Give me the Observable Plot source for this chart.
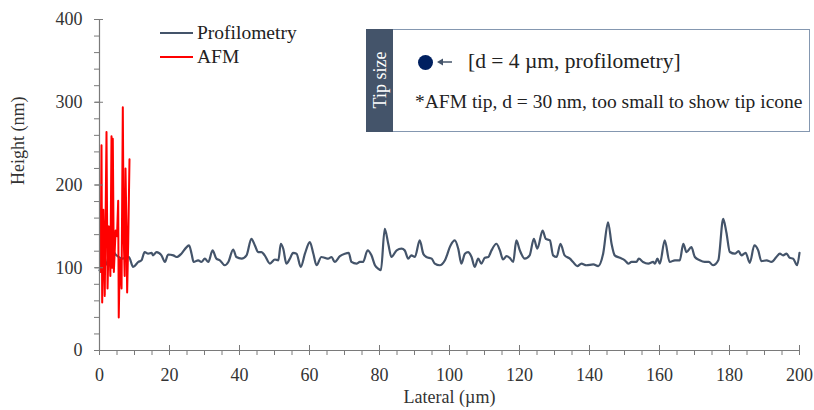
<!DOCTYPE html>
<html>
<head>
<meta charset="utf-8">
<script src="https://cdn.jsdelivr.net/npm/d3@7"></script>
<script src="https://cdn.jsdelivr.net/npm/@observablehq/plot@0.6"></script>
<style>
  body { margin: 0; background: #fff; }
  #wrap { position: relative; width: 814px; height: 410px; font-family: 'Liberation Serif', 'Times New Roman', serif; color: #222; }
  .abs { position: absolute; white-space: nowrap; }
  #chart svg text { font-family: 'Liberation Serif', 'Times New Roman', serif; }
</style>
</head>
<body>
<div id="wrap">
  <div id="chart"></div>
  <!-- legend -->
  <div class="abs" style="left:160px;top:32px;width:33px;height:2px;background:#44546a"></div>
  <div class="abs" style="left:197px;top:22px;font-size:19.5px;line-height:22px">Profilometry</div>
  <div class="abs" style="left:160px;top:56px;width:33px;height:2px;background:#ff0000"></div>
  <div class="abs" style="left:197px;top:46px;font-size:19.5px;line-height:22px">AFM</div>
  <!-- tip size box -->
  <div class="abs" style="left:366px;top:29px;width:444px;height:103px;border:1.5px solid #8497b0;box-sizing:border-box;background:#fff">
    <div class="abs" style="left:-1px;top:-1px;bottom:-1px;width:27px;background:#44546a"></div>
    <div class="abs" style="left:13px;top:50px;transform:translate(-50%,-50%) rotate(-90deg);color:#fff;font-size:18px;line-height:18px">Tip size</div>
    <div class="abs" style="left:51px;top:25px;width:15px;height:15px;border-radius:50%;background:#002060"></div>
    <svg class="abs" style="left:70px;top:26px" width="16" height="12">
      <line x1="4" y1="6" x2="15" y2="6" stroke="#44546a" stroke-width="1.5"/>
      <polygon points="0,6 6,2.5 6,9.5" fill="#44546a"/>
    </svg>
    <div class="abs" style="left:101px;top:19px;font-size:21.5px;line-height:24px">[d = 4 µm, profilometry]</div>
    <div class="abs" style="left:48px;top:60px;font-size:19.5px;line-height:24px">*AFM tip, d = 30 nm, too small to show tip icone</div>
  </div>
</div>
<script>
// Profilometry profile (lateral µm, height nm)
const profX = [
  0,0.8,2.2,3.4,4.1,5.5,6.5,8.4,9.6,11.1,
  12,12.9,13.9,14.9,15.3,16.3,17.7,18.7,19.6,21.1,
  22,23.4,24.9,25.6,26.3,26.9,28.2,29.1,30.1,31.1,
  32.3,33.4,34.4,35.8,36.8,38.2,39.1,40.6,42,43.4,
  44.4,45.3,46.3,47.2,48.7,50.1,51.1,51.8,52.5,53.4,
  54.4,55.3,56.3,57.5,58.7,60.1,61.1,62,63.4,64.4,
  65.3,66.3,67.2,68.7,70.1,71.2,72,73.4,74.4,75.3,
  76.6,77.7,78.7,79.6,80.4,81.5,82.5,83.4,84.9,86.3,
  87.2,88.2,89.1,90.1,91.5,92.5,93.4,94.9,95.8,97.2,
  98.7,100.3,101.5,102.5,103.4,104.4,105.3,106.3,107.2,108.2,
  109.1,110.1,111.1,112,113.4,114.4,115.3,116.3,117.2,118.2,
  119.1,120.1,121.5,122.9,124.1,125.1,126.6,127.5,128.7,129.6,
  130.6,131.7,132.9,134.4,135.3,136.5,137.7,139.1,141.1,142.5,
  143.9,145.3,146.3,147.2,148.7,150.1,151.1,152,153.4,154.1,
  155.3,156.8,158.2,158.7,159.4,160.1,161.5,162.9,164.4,165.8,
  166.8,167.7,169.1,170.1,171.5,172.9,174.1,175.3,176.8,178.2,
  179.1,180.1,181.5,182.6,183.4,184.6,185.8,187.1,188.2,189.1,
  190.6,192,193.4,194.4,195.3,196.3,197.2,198.2,199.3,200
];
const profY = [
  97,99,107,131,119,113,111,113,101,107,
  109,119,117,118,115,119,115,107,116,115,
  113,117,125,127,117,107,109,107,111,107,
  121,111,109,103,107,122,113,111,115,135,
  127,119,119,115,105,110,109,129,123,105,
  111,118,117,101,117,131,117,103,113,112,
  111,113,107,114,117,118,107,105,107,107,
  121,115,103,99,97,147,129,113,121,123,
  121,111,115,113,133,117,113,111,105,103,
  109,127,133,123,105,117,119,113,101,111,
  105,112,113,121,129,121,110,114,112,107,
  133,121,111,115,135,123,145,135,133,115,
  113,129,115,111,107,102,105,103,104,102,
  117,155,129,115,112,109,105,107,107,111,
  107,105,107,105,111,105,133,107,109,109,
  129,119,125,113,109,107,107,103,109,159,
  143,119,117,120,115,118,106,127,121,108,
  109,107,113,117,115,117,112,111,103,118
];
// AFM profile
const afmX = [0.3,0.57,0.77,1.1,1.5,2.0,2.3,2.7,3.1,3.43,3.6,3.8,4.1,4.6,5.0,5.34,5.5,5.8,6.3,6.66,6.9,7.2,7.43,7.7,7.9,8.2,8.57];
const afmY = [95,248,58,170,66,264,75,150,90,259,100,256,95,145,138,181,40,110,75,294,140,90,220,150,70,130,231];
// Axis ticks
const xMajor = [0,20,40,60,80,100,120,140,160,180,200];
const xMinor = d3.range(0, 201, 5);
const yMajor = [0,100,200,300,400];
const yMinor = d3.range(0, 401, 20);
const xTitle = "Lateral (µm)";
const yTitle = "Height (nm)";

const prof = profX.map((x, i) => ({x, y: profY[i]}));
const afm = afmX.map((x, i) => ({x, y: afmY[i]}));
const axisColor = "#7a7a7a";
const serif = "'Liberation Serif', 'Times New Roman', serif";

const chart = Plot.plot({
  width: 814,
  height: 410,
  marginTop: 19,
  marginRight: 15,
  marginBottom: 60,
  marginLeft: 99,
  style: {fontFamily: serif, fontSize: "18px", background: "transparent", color: "#333"},
  x: {domain: [0, 200]},
  y: {domain: [0, 400]},
  marks: [
    Plot.line(prof, {x: "x", y: "y", stroke: "#44546a", strokeWidth: 2.2, curve: "monotone-x"}),
    Plot.line(afm, {x: "x", y: "y", stroke: "#ff0000", strokeWidth: 2}),
    Plot.axisX({ticks: xMinor, tickSize: 5, tickPadding: 13, stroke: axisColor, fill: "#333", fontSize: 18, fontFamily: serif,
      tickFormat: d => xMajor.includes(d) ? String(d) : "", label: null}),
    Plot.axisY({ticks: yMinor, tickSize: 5, tickPadding: 12, stroke: axisColor, fill: "#333", fontSize: 18, fontFamily: serif,
      tickFormat: d => yMajor.includes(d) ? String(d) : "", label: null}),
    Plot.ruleX(xMajor, {x: d => d, y1: 0, y2: 0, insetTop: -5, insetBottom: -5, stroke: axisColor}),
    Plot.ruleY(yMajor, {y: d => d, x1: 0, x2: 0, insetLeft: -4, insetRight: -4, stroke: axisColor}),
    Plot.ruleX([0], {stroke: axisColor, strokeWidth: 1.2}),
    Plot.ruleY([0], {stroke: axisColor, strokeWidth: 1.2}),
    Plot.text([xTitle], {text: d => d, frameAnchor: "bottom", dy: 52, fontSize: 18, fill: "#333", fontFamily: serif}),
    Plot.text([yTitle], {text: d => d, frameAnchor: "left", rotate: -90, dx: -81, fontSize: 18, fill: "#333", fontFamily: serif})
  ]
});
document.getElementById("chart").appendChild(chart);
</script>
</body>
</html>
